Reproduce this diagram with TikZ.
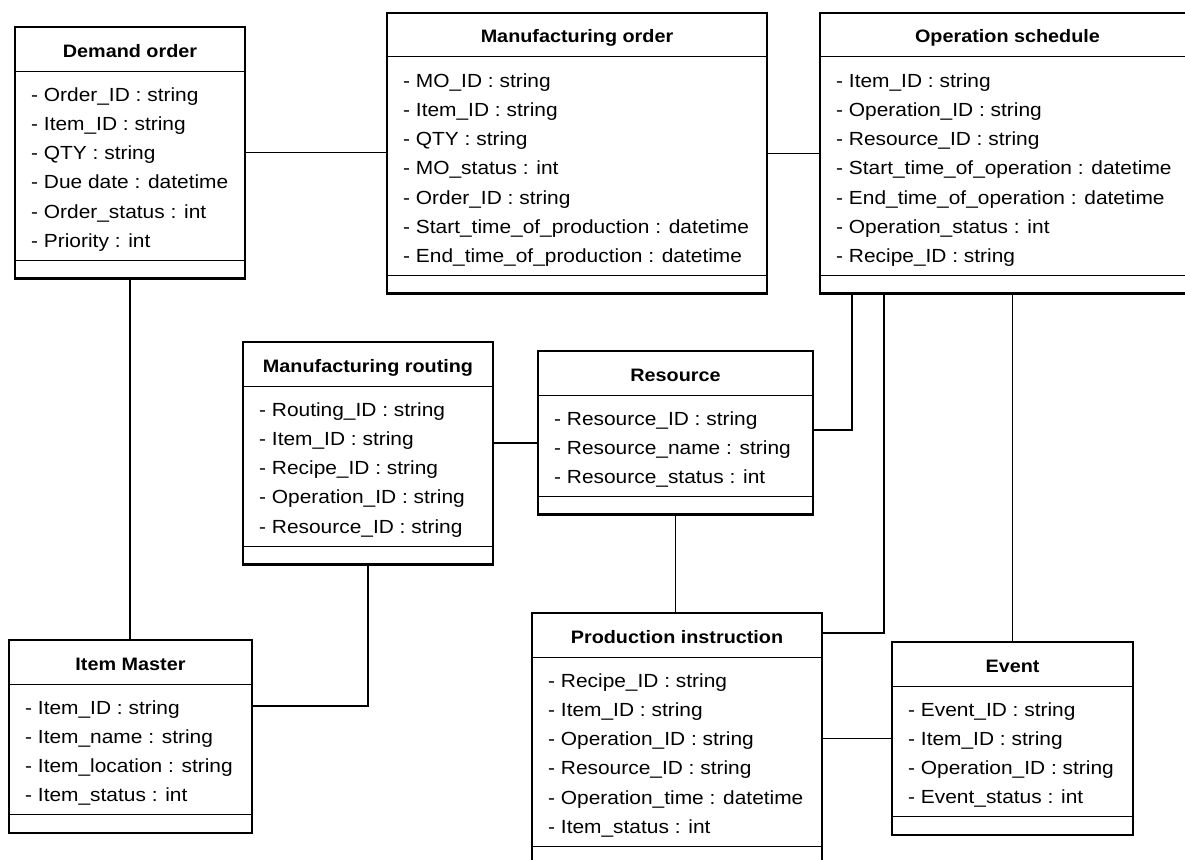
\documentclass[tikz,border=0pt]{standalone}
\usepackage{fontspec}
\setmainfont{Liberation Sans}[FakeStretch=1.1]
\begin{document}
\begin{tikzpicture}[x=1pt,y=-1pt,
  classbox/.style={draw=black, line width=2.8pt, fill=white, rectangle, inner sep=0pt, outer sep=0pt},
  divider/.style={draw=black, line width=1pt},
  classtitle/.style={font=\fontsize{18pt}{20pt}\selectfont\bfseries, inner sep=0pt, anchor=base},
  attr/.style={font=\fontsize{19pt}{22pt}\selectfont, inner sep=0pt, anchor=base west},
  conn/.style={draw=black, line width=1.1pt}]

% canvas
\useasboundingbox (0,0) rectangle (1185,859);
\fill[white] (0,0) rectangle (1185,859);
\clip (0,0) rectangle (1185,859);

% UML class: name, left, top, width, number of attributes, title, attributes
\newcommand\umlclass[7]{%
  \pgfmathsetmacro\boxh{105+(#5-1)*29.3}
  \node[classbox, minimum width=#4pt, minimum height=\boxh pt, anchor=north west] (#1) at (#2,#3) {};
  \draw[divider] ([yshift=-44pt]#1.north west) -- ([yshift=-44pt]#1.north east);
  \draw[divider] ([yshift=18pt]#1.south west) -- ([yshift=18pt]#1.south east);
  \node[classtitle] (#1-title) at ([yshift=-30pt]#1.north) {#6};
  \foreach \attrtext [count=\i] in {#7} {
    \pgfmathsetmacro\dy{74+(\i-1)*29.3}
    \node[attr] (#1-\i) at ([xshift=16pt,yshift=-\dy pt]#1.north west) {\attrtext};
  }
}

\umlclass{dem}{15}{27}{230}{6}{Demand order}{%
  - Order\_ID : string, - Item\_ID : string, - QTY : string,
  - Due date : datetime, - Order\_status : int, - Priority : int}

\umlclass{mo}{387}{13}{380}{7}{Manufacturing order}{%
  - MO\_ID : string, - Item\_ID : string, - QTY : string,
  - MO\_status : int, - Order\_ID : string,
  - Start\_time\_of\_production : datetime,
  - End\_time\_of\_production : datetime}

\umlclass{os}{820}{13}{375}{7}{Operation schedule}{%
  - Item\_ID : string, - Operation\_ID : string, - Resource\_ID : string,
  - Start\_time\_of\_operation : datetime,
  - End\_time\_of\_operation : datetime,
  - Operation\_status : int, - Recipe\_ID : string}

\umlclass{rt}{243}{342}{250}{5}{Manufacturing routing}{%
  - Routing\_ID : string, - Item\_ID : string, - Recipe\_ID : string,
  - Operation\_ID : string, - Resource\_ID : string}

\umlclass{res}{538}{351}{275}{3}{Resource}{%
  - Resource\_ID : string, - Resource\_name : string, - Resource\_status : int}

\umlclass{im}{9}{640}{243}{4}{Item Master}{%
  - Item\_ID : string, - Item\_name : string, - Item\_location : string,
  - Item\_status : int}

\umlclass{pi}{532}{613}{290}{6}{Production instruction}{%
  - Recipe\_ID : string, - Item\_ID : string, - Operation\_ID : string,
  - Resource\_ID : string, - Operation\_time : datetime, - Item\_status : int}

\umlclass{ev}{892}{642}{241}{4}{Event}{%
  - Event\_ID : string, - Item\_ID : string, - Operation\_ID : string,
  - Event\_status : int}

% bend points of the elbow connectors
\coordinate (rtres) at (0,443);
\coordinate (rtim) at (0,706);
\coordinate (resos) at (852,430);
\coordinate (pios) at (884,633);

% associations
\draw[conn] (dem.east) -- (dem.east -| mo.west);
\draw[conn] (mo.east) -- (mo.east -| os.west);
\draw[conn] (dem.south) -- (dem.south |- im.north);
\draw[conn] (rtres -| rt.east) -- (rtres -| res.west);
\draw[conn] (rt.south) |- (rtim -| im.east);
\draw[conn] (resos -| res.east) -- (resos) -- (resos |- os.south);
\draw[conn] (res.south) -- (res.south |- pi.north);
\draw[conn] (pios -| pi.east) -- (pios) -- (pios |- os.south);
\draw[conn] (ev.north) -- (ev.north |- os.south);
\draw[conn] (pi.east) -- (pi.east -| ev.west);
\end{tikzpicture}
\end{document}
